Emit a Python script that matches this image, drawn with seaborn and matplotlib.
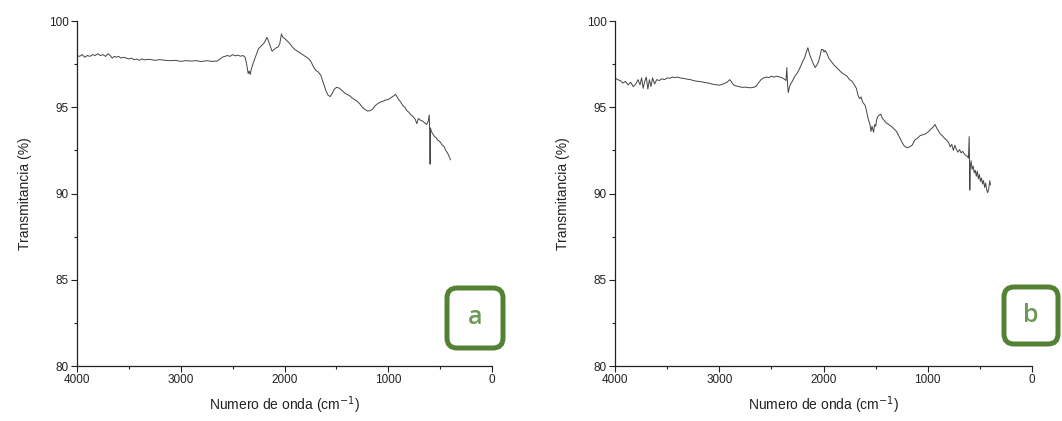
import numpy as np
import pandas as pd
import matplotlib
matplotlib.use("Agg")
import matplotlib.pyplot as plt
import seaborn as sns
from matplotlib.patches import FancyBboxPatch
from matplotlib.ticker import MultipleLocator

# ============================
# Data
# ============================

wn_a = [4000, 3975, 3950, 3925, 3900, 3875, 3850, 3825, 3800, 3775, 3750, 3725,
        3700, 3680, 3660, 3640, 3620, 3600, 3575, 3550, 3525, 3500, 3475, 3450,
        3425, 3400, 3375, 3350, 3300, 3250, 3200, 3150, 3100, 3050, 3000, 2950,
        2900, 2850, 2800, 2750, 2700, 2650, 2620, 2600, 2575, 2550, 2525, 2500,
        2475, 2450, 2425, 2400, 2380, 2365, 2350, 2340, 2330, 2320, 2300, 2275,
        2250, 2225, 2200, 2185, 2170, 2155, 2140, 2120, 2100, 2080, 2060, 2045,
        2030, 2015, 2000, 1975, 1950, 1925, 1900, 1875, 1850, 1825, 1800, 1775,
        1750, 1725, 1700, 1675, 1650, 1625, 1600, 1580, 1560, 1540, 1520, 1500,
        1475, 1450, 1425, 1400, 1375, 1350, 1325, 1300, 1275, 1250, 1225, 1200,
        1175, 1150, 1125, 1100, 1075, 1050, 1025, 1000, 975, 950, 930, 910,
        900, 880, 860, 840, 820, 800, 780, 760, 740, 725, 710, 690,
        670, 650, 630, 615, 605, 600, 597, 593, 585, 570, 555, 540,
        525, 510, 495, 480, 465, 450, 435, 420, 410, 400]
t_a = [98.0, 97.95, 98.05, 97.9, 98.0, 97.95, 98.05, 98.0, 98.1, 98.0, 98.05, 97.95,
       98.1, 98.0, 97.85, 97.95, 97.9, 97.95, 97.85, 97.9, 97.85, 97.8, 97.85, 97.75,
       97.8, 97.72, 97.8, 97.75, 97.78, 97.72, 97.76, 97.72, 97.7, 97.72, 97.66, 97.7,
       97.68, 97.7, 97.65, 97.7, 97.66, 97.68, 97.8, 97.9, 97.95, 98.0, 97.95, 98.05,
       97.98, 98.02, 97.96, 98.0, 97.9, 97.5, 96.95, 97.1, 96.9, 97.2, 97.6, 98.0,
       98.4, 98.55, 98.7, 98.85, 99.05, 98.85, 98.6, 98.25, 98.35, 98.45, 98.5, 98.7,
       99.25, 99.05, 99.0, 98.85, 98.7, 98.5, 98.35, 98.25, 98.15, 98.05, 97.95, 97.85,
       97.7, 97.4, 97.15, 97.05, 96.85, 96.4, 95.95, 95.7, 95.62, 95.8, 96.05, 96.15,
       96.12, 96.0, 95.85, 95.75, 95.68, 95.55, 95.45, 95.35, 95.2, 95.0, 94.88, 94.78,
       94.8, 94.9, 95.1, 95.22, 95.3, 95.35, 95.42, 95.45, 95.55, 95.65, 95.75, 95.55,
       95.45, 95.3, 95.1, 95.0, 94.8, 94.7, 94.55, 94.45, 94.3, 94.05, 94.35, 94.25,
       94.2, 94.1, 94.0, 94.2, 94.55, 93.4, 91.7, 93.8, 93.6, 93.45, 93.3, 93.25,
       93.1, 93.05, 92.95, 92.8, 92.75, 92.55, 92.4, 92.25, 92.1, 91.95]

wn_b = [4000, 3975, 3950, 3925, 3900, 3875, 3850, 3825, 3800, 3780, 3760, 3745,
        3730, 3715, 3700, 3685, 3670, 3655, 3640, 3620, 3600, 3575, 3550, 3525,
        3500, 3475, 3450, 3425, 3400, 3375, 3350, 3325, 3300, 3275, 3250, 3225,
        3200, 3175, 3150, 3125, 3100, 3075, 3050, 3025, 3000, 2975, 2950, 2925,
        2900, 2885, 2870, 2850, 2825, 2800, 2775, 2750, 2725, 2700, 2675, 2650,
        2625, 2600, 2575, 2550, 2525, 2500, 2475, 2450, 2425, 2400, 2380, 2360,
        2352, 2345, 2338, 2330, 2320, 2300, 2275, 2250, 2225, 2200, 2180, 2165,
        2150, 2135, 2120, 2100, 2080, 2065, 2050, 2035, 2020, 2005, 1995, 1985,
        1970, 1950, 1925, 1900, 1875, 1850, 1825, 1800, 1775, 1750, 1725, 1700,
        1685, 1670, 1655, 1640, 1625, 1600, 1585, 1570, 1555, 1545, 1535, 1520,
        1510, 1500, 1490, 1480, 1465, 1450, 1435, 1420, 1400, 1375, 1350, 1325,
        1300, 1275, 1250, 1225, 1200, 1175, 1150, 1125, 1100, 1075, 1050, 1025,
        1000, 975, 950, 930, 915, 900, 880, 860, 840, 820, 800, 785,
        770, 755, 740, 725, 710, 695, 680, 665, 650, 635, 620, 610,
        603, 600, 597, 593, 585, 575, 565, 555, 545, 535, 525, 515,
        505, 495, 485, 475, 465, 455, 445, 435, 425, 415, 405, 400]
t_b = [96.7, 96.6, 96.55, 96.4, 96.5, 96.3, 96.45, 96.2, 96.35, 96.6, 96.3, 96.7,
       96.1, 96.5, 96.75, 96.05, 96.6, 96.2, 96.7, 96.35, 96.6, 96.55, 96.65, 96.6,
       96.7, 96.68, 96.75, 96.72, 96.75, 96.7, 96.68, 96.65, 96.62, 96.6, 96.55, 96.52,
       96.5, 96.48, 96.45, 96.42, 96.4, 96.35, 96.32, 96.3, 96.28, 96.32, 96.38, 96.45,
       96.6, 96.5, 96.35, 96.25, 96.22, 96.18, 96.15, 96.17, 96.14, 96.13, 96.15, 96.2,
       96.4, 96.6, 96.7, 96.75, 96.72, 96.8, 96.75, 96.8, 96.76, 96.72, 96.65, 96.55,
       97.3, 96.3, 95.85, 96.1, 96.3, 96.5, 96.8, 97.0, 97.3, 97.65, 97.9, 98.2,
       98.45, 98.1, 97.85, 97.55, 97.3, 97.45, 97.6, 97.95, 98.35, 98.35, 98.2, 98.3,
       98.15, 97.85, 97.65, 97.45, 97.3, 97.15, 97.0, 96.9, 96.8, 96.6, 96.5, 96.25,
       96.1, 95.7, 95.5, 95.6, 95.3, 95.1, 94.7, 94.3, 94.0, 93.6, 93.9, 93.55,
       94.0, 93.9, 94.3, 94.45, 94.55, 94.6, 94.35, 94.25, 94.1, 94.0, 93.9, 93.75,
       93.6, 93.3, 93.0, 92.75, 92.65, 92.7, 92.8, 93.1, 93.2, 93.35, 93.4, 93.45,
       93.55, 93.7, 93.85, 94.0, 93.8, 93.65, 93.45, 93.35, 93.2, 93.1, 92.95, 92.7,
       92.85, 92.5, 92.8, 92.55, 92.4, 92.55, 92.35, 92.45, 92.3, 92.2, 92.15, 92.05,
       93.3, 92.0, 90.2, 91.5, 91.9, 91.4, 91.6, 91.2, 91.35, 91.0, 91.3, 90.85,
       91.1, 90.7, 90.9, 90.55, 90.75, 90.35, 90.6, 90.2, 90.05, 90.3, 90.75, 90.5]

panel_labels = ["a", "b"]
x_ticks = [4000, 3000, 2000, 1000, 0]
y_ticks = [80, 85, 90, 95, 100]

# ============================
# Style
# ============================

sns.set_style("ticks")
plt.rcParams["font.family"] = ["Liberation Sans", "DejaVu Sans"]

fig = plt.figure(figsize=(10.62, 4.21), dpi=100)

ax_a = fig.add_axes([0.0725, 0.1306, 0.3908, 0.8195])
ax_b = fig.add_axes([0.5791, 0.1306, 0.3927, 0.8195])

spectra = [
    pd.DataFrame({"wn": wn_a, "T": t_a}),
    pd.DataFrame({"wn": wn_b, "T": t_b}),
]

# ============================
# Draw each spectrum
# ============================

for ax, df in zip([ax_a, ax_b], spectra):
    sns.lineplot(data=df, x="wn", y="T", ax=ax, sort=False, estimator=None,
                 color="#444444", linewidth=0.7)

    ax.set_xlim(4000, 0)
    ax.set_ylim(80, 100)
    ax.set_xticks(x_ticks)
    ax.set_yticks(y_ticks)
    ax.xaxis.set_minor_locator(MultipleLocator(500))
    ax.yaxis.set_minor_locator(MultipleLocator(2.5))
    ax.tick_params(which="major", length=4, width=0.8, labelsize=8.5,
                   colors="#222222", pad=2)
    ax.tick_params(which="minor", length=2.5, width=0.8, colors="#222222")
    for side in ["left", "bottom"]:
        ax.spines[side].set_linewidth(0.9)
        ax.spines[side].set_color("#222222")
    sns.despine(ax=ax)

    ax.set_xlabel("Numero de onda (cm$^{-1}$)", fontsize=10, color="#222222",
                  labelpad=6)
    ax.set_ylabel("Transmitancia (%)", fontsize=10, color="#222222",
                  labelpad=12)

# ============================
# Green panel tags
# ============================

tag_boxes = [(447, 288, 56, 60), (1004, 287, 54, 57)]

for label, (px, py, w, h) in zip(panel_labels, tag_boxes):
    x0 = px / 1062
    y0 = (421 - py - h) / 421
    box = FancyBboxPatch((x0, y0), w / 1062, h / 421,
                         boxstyle="round,pad=0,rounding_size=0.0095",
                         transform=fig.transFigure, facecolor="white",
                         edgecolor="#548235", linewidth=3.6,
                         mutation_aspect=1062 / 421)
    fig.patches.append(box)
    fig.text(x0 + w / 2124, y0 + h / 842, label, ha="center", va="center",
             fontsize=18, fontweight="semibold", color="#6a9a55",
             family=["Open Sans", "DejaVu Sans"])

fig.savefig("out.png", dpi=100)
plt.close(fig)
